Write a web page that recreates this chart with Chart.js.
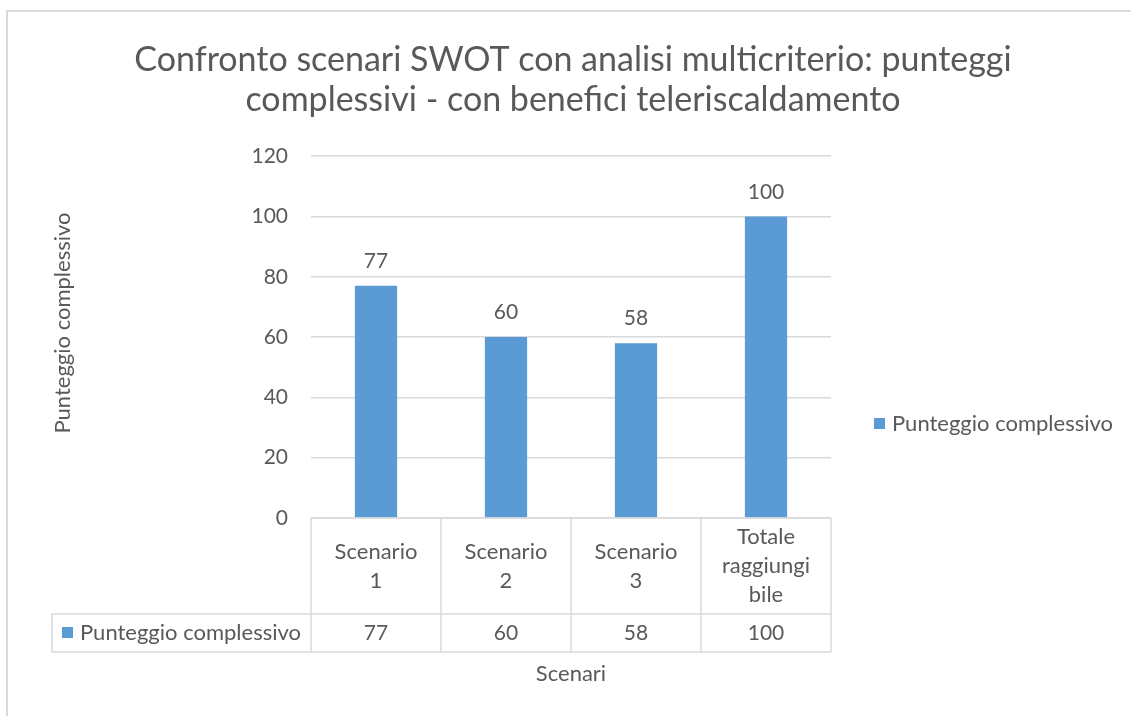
<!DOCTYPE html>
<html lang="it">
<head>
<meta charset="utf-8">
<title>Confronto scenari SWOT</title>
<script src="https://cdn.jsdelivr.net/npm/chart.js@4.4.1/dist/chart.umd.min.js"></script>
<style>
  html, body { margin: 0; padding: 0; background: #fff; }
  #wrap { width: 1131px; height: 716px; }
</style>
</head>
<body>
<div id="wrap"><canvas id="grafico" width="1131" height="716"></canvas></div>
<script>
// dati del grafico
const categorie = [["Scenario", "1"], ["Scenario", "2"], ["Scenario", "3"], ["Totale", "raggiungi", "bile"]];
const punteggi = [77, 60, 58, 100];
const nomeSerie = "Punteggio complessivo";
const titoloY = "Punteggio complessivo";
const asseY = { min: 0, max: 120, passo: 20 };

const FONT = "Lato";
const TESTO = "#595959";
const GRIGLIA = "#D9D9D9";
const BLU = "#5B9BD5";
const F_TESTO = "22px " + FONT;
const F_NUMERI = "21px " + FONT;

// tabella dati sotto il grafico, bordo esterno, legenda, titolo asse Y ed etichette dei valori
const tabellaDati = {
  id: "tabellaDati",
  beforeDraw(chart) {
    const ctx = chart.ctx;
    ctx.save();
    ctx.fillStyle = "#fff";
    ctx.fillRect(0, 0, chart.width, chart.height);
    ctx.strokeStyle = GRIGLIA;
    ctx.lineWidth = 2;
    ctx.beginPath();
    ctx.moveTo(7, chart.height);
    ctx.lineTo(7, 11);
    ctx.lineTo(chart.width, 11);
    ctx.stroke();
    ctx.restore();
  },
  afterDatasetsDraw(chart) {
    const ctx = chart.ctx;
    const area = chart.chartArea;
    const x = chart.scales.x;
    const meta = chart.getDatasetMeta(0);
    const colW = (area.right - area.left) / categorie.length;
    const top = area.bottom;
    const rigaCat = top + 96;
    const fondo = rigaCat + 38;
    const sinistra = 52;

    ctx.save();
    // etichette sopra le barre
    ctx.font = F_NUMERI;
    ctx.fillStyle = TESTO;
    ctx.textAlign = "center";
    ctx.textBaseline = "alphabetic";
    meta.data.forEach((bar, i) => {
      ctx.fillText(String(punteggi[i]), bar.x, bar.y - 18);
    });

    // linee della tabella
    ctx.strokeStyle = GRIGLIA;
    ctx.lineWidth = 1.5;
    ctx.beginPath();
    ctx.moveTo(area.left, top); ctx.lineTo(area.right, top);
    ctx.moveTo(sinistra, rigaCat); ctx.lineTo(area.right, rigaCat);
    ctx.moveTo(sinistra, fondo); ctx.lineTo(area.right, fondo);
    ctx.moveTo(sinistra, rigaCat); ctx.lineTo(sinistra, fondo);
    for (let i = 0; i <= categorie.length; i++) {
      const cx = area.left + i * colW;
      ctx.moveTo(cx, top); ctx.lineTo(cx, fondo);
    }
    ctx.stroke();

    // intestazioni di colonna e valori
    ctx.textBaseline = "middle";
    const centroCat = (top + rigaCat) / 2;
    const yVal = (rigaCat + fondo) / 2;
    const interlinea = 29;
    categorie.forEach((righe, i) => {
      const cx = x.getPixelForValue(i);
      const y0 = centroCat - (righe.length - 1) * interlinea / 2;
      ctx.font = F_TESTO;
      righe.forEach((r, k) => ctx.fillText(r, cx, y0 + k * interlinea));
      ctx.font = F_NUMERI;
      ctx.fillText(String(punteggi[i]), cx, yVal);
    });

    // titolo dell'asse Y, ruotato
    ctx.font = F_TESTO;
    ctx.save();
    ctx.translate(63, 323);
    ctx.rotate(-Math.PI / 2);
    ctx.fillText(titoloY, 0, 0);
    ctx.restore();

    // chiave della serie nella tabella
    ctx.fillStyle = BLU;
    ctx.fillRect(62, yVal - 6, 11, 11);
    ctx.fillStyle = TESTO;
    ctx.textAlign = "left";
    ctx.fillText(nomeSerie, 80, yVal);

    // legenda a destra
    ctx.fillStyle = BLU;
    ctx.fillRect(874, 418, 11, 11);
    ctx.fillStyle = TESTO;
    ctx.fillText(nomeSerie, 892, 424);
    ctx.restore();
  }
};

new Chart(document.getElementById("grafico"), {
  type: "bar",
  data: {
    labels: categorie,
    datasets: [{
      label: nomeSerie,
      data: punteggi,
      backgroundColor: BLU,
      categoryPercentage: 1,
      barPercentage: 0.325
    }]
  },
  options: {
    responsive: false,
    animation: false,
    layout: { padding: { top: 0, left: 16, right: 1, bottom: 0 } },
    plugins: {
      legend: { display: false },
      tooltip: { enabled: false },
      title: {
        display: true,
        text: ["Confronto scenari SWOT con analisi multicriterio: punteggi",
               "complessivi - con benefici teleriscaldamento"],
        color: TESTO,
        font: { family: FONT, size: 34, weight: "normal", lineHeight: 1.18 },
        padding: { top: 40, bottom: 36 }
      }
    },
    scales: {
      x: {
        ticks: { display: false },
        grid: { display: false },
        border: { display: false },
        title: {
          display: true,
          text: "Scenari",
          color: TESTO,
          font: { family: FONT, size: 22, lineHeight: 1.2 },
          padding: { top: 0, bottom: 29 }
        },
        afterFit(scale) { scale.height = 198; }
      },
      y: {
        min: asseY.min,
        max: asseY.max,
        ticks: {
          stepSize: asseY.passo,
          color: TESTO,
          padding: 23,
          font: { family: FONT, size: 21 }
        },
        grid: { color: GRIGLIA, lineWidth: 1.5, drawTicks: false },
        border: { display: false },
        afterFit(scale) { scale.width = 295; }
      },
      // spazio a destra dell'area del grafico riservato alla legenda
      spazio: {
        type: "linear",
        position: "right",
        display: true,
        ticks: { display: false },
        grid: { display: false },
        border: { display: false },
        afterFit(scale) { scale.width = 299; }
      }
    }
  },
  plugins: [tabellaDati]
});
</script>
</body>
</html>
